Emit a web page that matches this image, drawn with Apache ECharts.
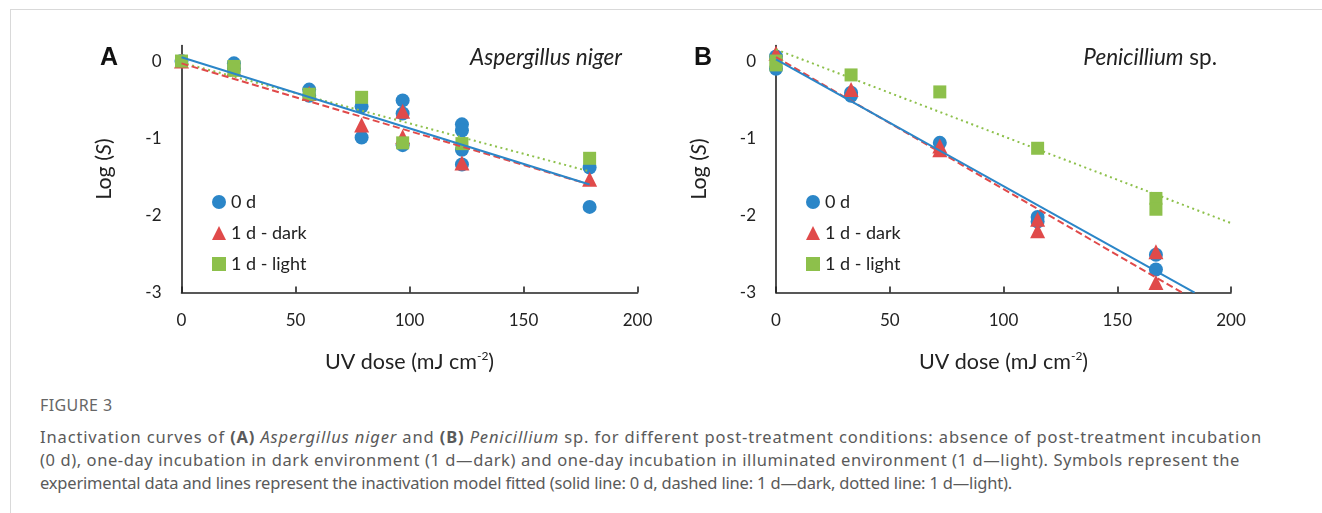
<!DOCTYPE html>
<html>
<head>
<meta charset="utf-8">
<script src="https://cdn.jsdelivr.net/npm/echarts@6/dist/echarts.min.js"></script>
<style>
  html, body { margin: 0; padding: 0; background: #fff; }
  #wrap { position: relative; width: 1322px; height: 513px; overflow: hidden; }
  #frame { position: absolute; left: 10px; top: 9px; width: 1330px; height: 520px; border-left: 1px solid #d9d9d9; border-top: 1px solid #d9d9d9; }
  #chart { position: absolute; left: 0; top: 0; width: 1322px; height: 385px; }
  #cap { position: absolute; left: 40px; top: 394px; font-family: "Noto Sans", sans-serif; color: #5a5a5a; white-space: nowrap; }
  #cap .fig { font-size: 16px; letter-spacing: 0.4px; color: #666; height: 23px; line-height: 23px; margin-bottom: 8px; }
  #cap .ln { font-size: 16.5px; line-height: 23px; display: block; }
</style>
</head>
<body>
<div id="wrap">
  <div id="frame"></div>
  <div id="chart"></div>
  <div id="cap">
    <div class="fig">FIGURE 3</div>
    <div class="ln" data-w="1222">Inactivation curves of <b>(A)</b> <i>Aspergillus niger</i> and <b>(B)</b> <i>Penicillium</i> sp. for different post-treatment conditions: absence of post-treatment incubation</div>
    <div class="ln" data-w="1200">(0 d), one-day incubation in dark environment (1 d—dark) and one-day incubation in illuminated environment (1 d—light). Symbols represent the</div>
    <div class="ln" data-w="972">experimental data and lines represent the inactivation model fitted (solid line: 0 d, dashed line: 1 d—dark, dotted line: 1 d—light).</div>
  </div>
</div>
<script>
// ---- Data: panel A (Aspergillus niger) ----
var A_0d    = [[0,0],[23,-0.03],[23,-0.1],[56,-0.37],[56,-0.45],[79,-0.59],[79,-0.99],[97,-0.51],[97,-0.68],[97,-1.09],[123,-0.82],[123,-0.9],[123,-1.15],[123,-1.34],[179,-1.38],[179,-1.89]];
var A_dark  = [[0,0],[23,-0.1],[56,-0.42],[79,-0.83],[97,-0.65],[97,-0.98],[123,-1.32],[179,-1.53]];
var A_light = [[0,0],[23,-0.07],[23,-0.12],[56,-0.43],[79,-0.47],[97,-1.06],[123,-1.07],[179,-1.26]];
var A_fit_0d    = [[0,0.05],[179,-1.6]];
var A_fit_dark  = [[0,-0.03],[179,-1.6]];
var A_fit_light = [[0,-0.02],[179,-1.43]];
// ---- Data: panel B (Penicillium sp.) ----
var B_0d    = [[0,0.06],[0,-0.1],[33,-0.41],[33,-0.45],[72,-1.06],[115,-2.02],[115,-2.08],[167,-2.51],[167,-2.7]];
var B_dark  = [[0,0.1],[33,-0.37],[72,-1.1],[72,-1.15],[115,-2.05],[115,-2.2],[167,-2.47],[167,-2.87]];
var B_light = [[0,0],[0,-0.05],[33,-0.18],[72,-0.4],[115,-1.13],[167,-1.78],[167,-1.92]];
var B_fit_0d    = [[0,0.02],[184,-3]];
var B_fit_dark  = [[0,0.05],[178.5,-3]];
var B_fit_light = [[0,0.15],[200,-2.1]];
// ---- Axis ticks ----
var xMin = 0, xMax = 200, xStep = 50;
var yMin = -3, yMax = 0.2, yStep = 1;
var legendNames = ['0 d', '1 d - dark', '1 d - light'];

// fit each caption line to the reference line width
(function () {
  document.querySelectorAll('#cap .ln').forEach(function (el) {
    var target = parseFloat(el.getAttribute('data-w'));
    var n = el.textContent.length;
    var span = document.createElement('span');
    span.innerHTML = el.innerHTML; span.style.whiteSpace = 'nowrap';
    el.innerHTML = ''; el.appendChild(span);
    var w = span.getBoundingClientRect().width;
    el.style.letterSpacing = ((target - w) / n) + 'px';
  });
})();

var BLUE = '#2b86c8', RED = '#e04a4a', GREEN = '#8dc04b';
var FONT = 'Lato, "Open Sans", sans-serif';

var chart = echarts.init(document.getElementById('chart'), null, {renderer: 'canvas'});

function xAx(gi) {
  return {
    gridIndex: gi, type: 'value', min: xMin, max: xMax, interval: xStep,
    name: 'UV dose (mJ cm{sup|-2})', nameLocation: 'middle', nameGap: 58,
    nameTextStyle: {fontFamily: FONT, fontSize: 21.5, color: '#222',
      rich: {sup: {fontFamily: FONT, fontSize: 12, color: '#222', verticalAlign: 'top', lineHeight: 12, padding: [0,0,11,0]}}},
    axisLine: {show: true, onZero: false, lineStyle: {color: '#222', width: 1.6}},
    axisTick: {show: true, inside: true, length: 6, lineStyle: {color: '#222', width: 1.6}},
    axisLabel: {fontFamily: FONT, fontSize: 17, color: '#222', margin: 19},
    splitLine: {show: false}
  };
}
function yAx(gi) {
  return {
    gridIndex: gi, type: 'value', min: yMin, max: yMax, interval: yStep,
    name: 'Log ({i|S})', nameLocation: 'middle', nameGap: 66, nameRotate: 90,
    nameTextStyle: {fontFamily: FONT, fontSize: 21.5, color: '#222',
      rich: {i: {fontFamily: FONT, fontSize: 21.5, fontStyle: 'italic', color: '#222'}}},
    axisLine: {show: true, onZero: false, lineStyle: {color: '#222', width: 1.6}},
    axisTick: {show: false},
    axisLabel: {fontFamily: FONT, fontSize: 17, color: '#222', margin: 20,
      formatter: function (v) { return Math.abs(v - Math.round(v)) < 1e-9 ? String(Math.round(v)) : ''; }},
    splitLine: {show: false}
  };
}
function scat(name, data, gi, color, symbol, size) {
  return {name: name, type: 'scatter', xAxisIndex: gi, yAxisIndex: gi, data: data,
    symbol: symbol, symbolSize: size, itemStyle: {color: color, opacity: 1}, z: 2};
}
function fit(data, gi, color, dash) {
  return {type: 'line', xAxisIndex: gi, yAxisIndex: gi, data: data, showSymbol: false, symbol: 'none',
    lineStyle: {color: color, width: 2, type: dash}, z: 3, silent: true};
}
function leg(left) {
  return {orient: 'vertical', left: left, top: 193, padding: 0, itemWidth: 14, itemHeight: 14, itemGap: 13,
    data: [{name: legendNames[0], icon: 'circle'}, {name: legendNames[1], icon: 'triangle'}, {name: legendNames[2], icon: 'rect'}],
    textStyle: {fontFamily: FONT, fontSize: 18, color: '#222'}, selectedMode: false};
}

chart.setOption({
  animation: false,
  title: [
    {text: 'A', left: 100, top: 46, padding: 0, textStyle: {fontFamily: '"Liberation Sans", Arial, sans-serif', fontWeight: 'bold', fontSize: 25, color: '#111'}},
    {text: 'B', left: 694, top: 46, padding: 0, textStyle: {fontFamily: '"Liberation Sans", Arial, sans-serif', fontWeight: 'bold', fontSize: 25, color: '#111'}},
    {text: 'Aspergillus niger', right: 700, top: 46, padding: 0, textStyle: {fontFamily: FONT, fontStyle: 'italic', fontWeight: 'normal', fontSize: 22.5, color: '#222'}},
    {text: '{i|Penicillium} sp.', right: 105, top: 46, padding: 0, textStyle: {fontFamily: FONT, fontWeight: 'normal', fontSize: 22.5, color: '#222',
      rich: {i: {fontFamily: FONT, fontStyle: 'italic', fontSize: 22.5, color: '#222'}}}}
  ],
  grid: [
    {left: 181.5, top: 45.6, width: 456, height: 247},
    {left: 776, top: 45.6, width: 455, height: 247}
  ],
  xAxis: [xAx(0), xAx(1)],
  yAxis: [yAx(0), yAx(1)],
  legend: [leg(212), leg(806)],
  series: [
    scat('0 d', A_0d, 0, BLUE, 'circle', 14),
    scat('1 d - dark', A_dark, 0, RED, 'triangle', 15),
    scat('1 d - light', A_light, 0, GREEN, 'rect', 13),
    fit(A_fit_light, 0, GREEN, [2, 3.5]),
    fit(A_fit_dark, 0, RED, [7, 3.5]),
    fit(A_fit_0d, 0, BLUE, 'solid'),
    scat('0 d', B_0d, 1, BLUE, 'circle', 14),
    scat('1 d - dark', B_dark, 1, RED, 'triangle', 15),
    scat('1 d - light', B_light, 1, GREEN, 'rect', 13),
    fit(B_fit_light, 1, GREEN, [2, 3.5]),
    fit(B_fit_dark, 1, RED, [7, 3.5]),
    fit(B_fit_0d, 1, BLUE, 'solid')
  ]
});
</script>
</body>
</html>
